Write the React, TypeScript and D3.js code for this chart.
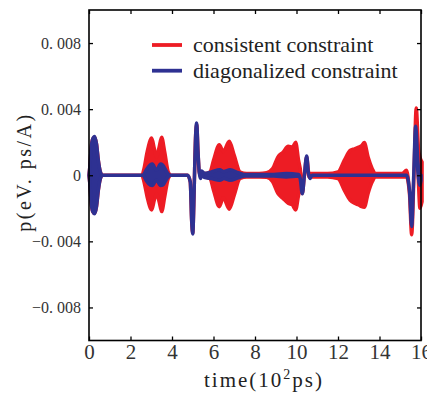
import * as d3 from 'd3';
import { useEffect, useRef } from 'react';

// [time (10^2 ps), upper envelope, lower envelope]
const consistent: [number, number, number][] = [
  [0, 0, 0], [0.04, 0.0005, -0.0005], [0.1, 0.0016, -0.0016], [0.18, 0.0022, -0.0022],
  [0.27, 0.0023, -0.0023], [0.36, 0.0019, -0.0019], [0.45, 0.0009, -0.0009], [0.55, 0.0002, -0.0002],
  [0.65, 0, 0], [2.55, 0, 0], [2.65, 0.0004, -0.0004], [2.8, 0.0014, -0.0013],
  [3.02, 0.00225, -0.0021], [3.15, 0.0016, -0.0015], [3.26, 0.0011, -0.0011], [3.38, 0.0017, -0.0016],
  [3.5, 0.0023, -0.0022], [3.65, 0.0014, -0.0013], [3.82, 0.0002, -0.0002], [3.95, 0, 0],
  [4.75, 0, 0], [4.88, -0.0004, -0.0004], [4.95, -0.0028, -0.0028], [5.0, -0.0035, -0.0035],
  [5.05, -0.0018, -0.0018], [5.1, 0.0008, 0.0008], [5.15, 0.0027, 0.0027], [5.19, 0.0031, 0.0031],
  [5.25, 0.0015, 0.0015], [5.32, 0.0001, 0.0001], [5.6, 0.0001, -0.0001], [5.83, 0.0002, -0.0002],
  [6.0, 0.0009, -0.0009], [6.28, 0.00185, -0.0019], [6.47, 0.00144, -0.00136], [6.76, 0.00205, -0.00205],
  [7.0, 0.0012, -0.0012], [7.28, 0.0002, -0.0002], [7.6, 0.0001, -0.0001], [8.2, 0.0001, -0.0001],
  [8.56, 0.00015, -0.00012], [8.85, 0.0004, -0.0004], [9.1, 0.0011, -0.0011], [9.35, 0.0014, -0.0014],
  [9.6, 0.00175, -0.0017], [9.8, 0.0017, -0.0018], [9.96, 0.002, -0.0021], [10.1, 0.0009, -0.0012],
  [10.2, 0.0002, -0.0006], [10.28, -0.0011, -0.0011], [10.38, 0, 0], [10.49, 0.0011, 0.0011],
  [10.6, 0.0001, -0.0001], [11.5, 0.0001, -0.0001], [12.0, 0.0002, -0.0002], [12.3, 0.0009, -0.0009],
  [12.58, 0.0015, -0.0015], [12.8, 0.0016, -0.0017], [13.0, 0.0017, -0.0018], [13.14, 0.0018, -0.0019],
  [13.27, 0.00198, -0.00193], [13.45, 0.0011, -0.0011], [13.65, 0.0004, -0.0004], [13.8, 0.0001, -0.0001],
  [15.1, 0.0001, -0.0001], [15.3, 0.0003, -0.0001], [15.45, -0.0012, -0.0012], [15.55, -0.0036, -0.0036],
  [15.66, 0, 0], [15.77, 0.00407, 0.00407], [15.88, 0.0016, -0.0005], [15.95, 0.0011, -0.002],
  [16.05, 0.0008, -0.0016],
];

const diagonalized: [number, number, number][] = [
  [0, 0, 0], [0.04, 0.0005, -0.0005], [0.1, 0.0016, -0.0016], [0.18, 0.0022, -0.0022],
  [0.27, 0.00235, -0.00233], [0.36, 0.0019, -0.0019], [0.45, 0.0009, -0.0009], [0.55, 0.0002, -0.0002],
  [0.65, 0, 0], [2.6, 0, 0], [2.75, 0.0003, -0.0003], [2.95, 0.00062, -0.0006],
  [3.05, 0.00068, -0.00062], [3.25, 0.0003, -0.00028], [3.45, 0.00068, -0.00062], [3.55, 0.00062, -0.0006],
  [3.75, 0.0002, -0.0002], [3.9, 0, 0], [4.75, 0, 0], [4.88, -0.0004, -0.0004],
  [4.95, -0.0028, -0.0028], [5.0, -0.00355, -0.00355], [5.05, -0.0018, -0.0018], [5.1, 0.0008, 0.0008],
  [5.15, 0.0027, 0.0027], [5.19, 0.00316, 0.00316], [5.25, 0.0015, 0.0015], [5.32, 0.0001, 0.0001],
  [5.38, -0.0001, -0.0002], [5.43, 0.00025, 0.0001], [5.55, 0.00012, -0.00012], [5.9, 0.0002, -0.0002],
  [6.3, 0.00033, -0.0003], [6.5, 0.00022, -0.0002], [6.8, 0.00033, -0.0003], [7.2, 0.00015, -0.00015],
  [7.5, 0.00005, -0.00005], [8.9, 0.00005, -0.00005], [9.5, 0.0001, -0.0001], [10.1, 0.00005, -0.00005],
  [10.18, -0.0002, -0.0002], [10.28, -0.00112, -0.00112], [10.38, 0, 0], [10.49, 0.00116, 0.00116],
  [10.57, 0.0002, 0.0002], [10.65, -0.0002, -0.0002], [10.75, 0, 0], [15.3, 0, 0],
  [15.45, -0.001, -0.001], [15.55, -0.0031, -0.0031], [15.65, 0, 0], [15.74, 0.00296, 0.00296],
  [15.85, 0.0008, 0.0002], [15.95, -0.0002, -0.0006], [16.0, 0, -0.0003],
];

const xTicks = [0, 2, 4, 6, 8, 10, 12, 14, 16];
const yTicks = [-0.008, -0.004, 0, 0.004, 0.008];
const legendLabels = ['consistent constraint', 'diagonalized constraint'];

const RED = '#ed1c24';
const BLUE = '#2e3192';

export default function App() {
  const ref = useRef<SVGSVGElement | null>(null);

  useEffect(() => {
    const svg = d3.select(ref.current);
    svg.selectAll('*').remove();
    const width = 427;
    const height = 394;
    const margin = { top: 10, right: 6, bottom: 53.5, left: 89 };
    const x = d3.scaleLinear().domain([0, 16]).range([margin.left, width - margin.right]);
    const y = d3.scaleLinear().domain([-0.01, 0.01]).range([height - margin.bottom, margin.top]);
    const serif = "'Liberation Serif', 'Times New Roman', serif";

    const area = d3
      .area<[number, number, number]>()
      .x((d) => x(d[0]))
      .y0((d) => y(d[2]))
      .y1((d) => y(d[1]))
      .curve(d3.curveMonotoneX);

    [
      { data: consistent, color: RED },
      { data: diagonalized, color: BLUE },
    ].forEach((s) => {
      svg
        .append('path')
        .attr('d', area(s.data))
        .attr('fill', s.color)
        .attr('stroke', s.color)
        .attr('stroke-width', 3.5)
        .attr('stroke-linejoin', 'round');
    });

    const fmt = (d: number) => {
      if (d === 0) return '0';
      const s = d3.format('.3f')(Math.abs(d)).replace('.', '. ');
      return d < 0 ? '\u2212' + s : s;
    };

    const styleAxis = (g: d3.Selection<SVGGElement, unknown, null, undefined>) => {
      g.select('.domain').remove();
      g.selectAll('line').attr('stroke', '#000').attr('stroke-width', 1.3);
    };

    svg
      .append('g')
      .attr('transform', `translate(${margin.left},0)`)
      .call(d3.axisLeft(y).tickValues(yTicks).tickSize(-4).tickPadding(8).tickFormat((d) => fmt(+d)))
      .call(styleAxis)
      .selectAll('text')
      .attr('font-family', serif)
      .attr('font-size', 16)
      .attr('fill', '#333');

    svg
      .append('g')
      .attr('transform', `translate(0,${height - margin.bottom})`)
      .call(d3.axisBottom(x).tickValues(xTicks).tickSize(-4).tickPadding(4).tickFormat(d3.format('d')))
      .call(styleAxis)
      .selectAll('text')
      .attr('font-family', serif)
      .attr('font-size', 21)
      .attr('fill', '#333');

    svg
      .append('g')
      .attr('transform', `translate(0,${margin.top})`)
      .call(d3.axisTop(x).tickValues(xTicks).tickSize(-4).tickFormat(() => ''))
      .call(styleAxis);

    svg
      .append('g')
      .attr('transform', `translate(${width - margin.right},0)`)
      .call(d3.axisRight(y).tickValues(yTicks).tickSize(-4).tickFormat(() => ''))
      .call(styleAxis);

    svg
      .append('rect')
      .attr('x', margin.left)
      .attr('y', margin.top)
      .attr('width', width - margin.left - margin.right)
      .attr('height', height - margin.top - margin.bottom)
      .attr('fill', 'none')
      .attr('stroke', '#000')
      .attr('stroke-width', 1.6);

    // legend
    const lg = svg.append('g');
    legendLabels.forEach((label, i) => {
      const ly = 45 + i * 25.7;
      lg.append('line')
        .attr('x1', 152)
        .attr('x2', 182)
        .attr('y1', ly)
        .attr('y2', ly)
        .attr('stroke', i === 0 ? RED : BLUE)
        .attr('stroke-width', 3.8);
      lg.append('text')
        .attr('x', 193)
        .attr('y', ly + 7)
        .attr('font-family', serif)
        .attr('font-size', 22)
        .attr('fill', '#222')
        .text(label);
    });

    // axis titles
    const xt = svg
      .append('text')
      .attr('x', 264)
      .attr('y', 387)
      .attr('text-anchor', 'middle')
      .attr('font-family', serif)
      .attr('font-size', 21)
      .attr('letter-spacing', 2)
      .attr('fill', '#222');
    xt.append('tspan').text('time(10');
    xt.append('tspan').attr('dy', -8).attr('font-size', 14).text('2');
    xt.append('tspan').attr('dy', 8).text('ps)');

    svg
      .append('text')
      .attr('transform', `translate(31,172) rotate(-90)`)
      .attr('text-anchor', 'middle')
      .attr('font-family', serif)
      .attr('font-size', 20)
      .attr('letter-spacing', 2.5)
      .attr('fill', '#222')
      .text('p(eV. ps/A)');
  }, []);

  return (
    <svg
      ref={ref}
      width={427}
      height={394}
      style={{ position: 'absolute', left: 0, top: 0, background: '#fff' }}
    />
  );
}
